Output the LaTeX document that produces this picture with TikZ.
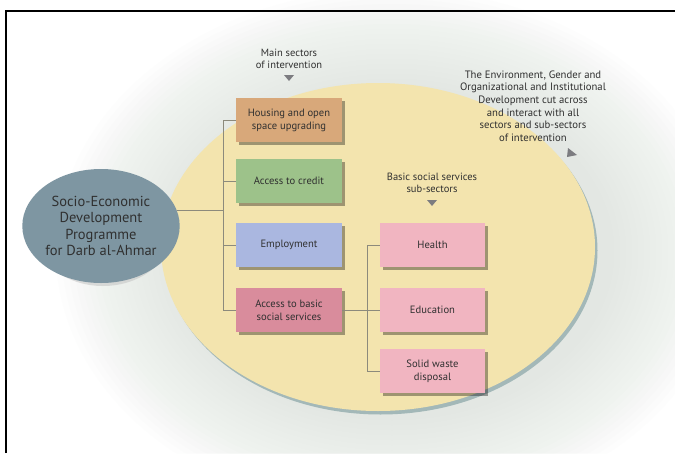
\documentclass[tikz,border=0pt]{standalone}
\usepackage{fontspec}
\setmainfont{PT Sans}
\usetikzlibrary{shadows,shapes.geometric}
\definecolor{bigyel}{HTML}{F3E4AE}
\definecolor{yelshadow}{HTML}{A3B8B8}
\definecolor{halo}{HTML}{D3DBD3}
\definecolor{slate}{HTML}{7E96A2}
\definecolor{housc}{HTML}{D8A87A}
\definecolor{credc}{HTML}{9DC28A}
\definecolor{empc}{HTML}{AAB7E0}
\definecolor{accc}{HTML}{D98C9C}
\definecolor{subc}{HTML}{F1B5C1}
\definecolor{txt}{HTML}{303030}
\definecolor{linec}{HTML}{8C8A7C}
\definecolor{tric}{HTML}{7C7C80}
\begin{document}
\begin{tikzpicture}[x=1pt,y=-1pt,
  box/.style={rectangle, minimum width=106pt, minimum height=44pt, inner sep=2pt,
    align=center, text=txt, font=\fontsize{10.6}{13}\selectfont,
    drop shadow={shadow xshift=2.5pt, shadow yshift=-2.5pt, fill=black, opacity=0.35}},
  head/.style={align=center, text=txt, inner sep=0pt, font=\fontsize{10.5}{12}\selectfont},
  conn/.style={draw=linec, line width=0.8pt},
  tri/.style={fill=tric}]
\useasboundingbox (0,0) rectangle (675,453);
\fill[white] (0,0) rectangle (675,453);
% soft glow
\foreach \k in {0,...,19}
  \fill[halo, opacity=0.035] (392,252) ellipse [x radius={222+6*\k}, y radius={168+5*\k}];
% large ellipse
\fill[yelshadow] (380.5,250.5) ellipse [x radius=217, y radius=164];
\fill[bigyel] (378,247) ellipse [x radius=217, y radius=164];
% frame
\draw[line width=2pt, black] (6,453) -- (6,11) -- (675,11);
% left programme ellipse
\fill[black!25, opacity=0.5] (103,229) ellipse [x radius=70, y radius=57];
\node[ellipse, fill=slate, minimum width=140pt, minimum height=114pt, inner sep=0pt,
  align=center, text=txt, font=\fontsize{14.5}{16.5}\selectfont] (prog) at (101,226)
  {Socio-Economic\\Development\\Programme\\for Darb al-Ahmar};
% headers
\node[head] (mainh) at (289,59) {Main sectors\\of intervention};
\node[head] (subh) at (432,183) {Basic social services\\sub-sectors};
\node[head, font=\fontsize{10.7}{12.6}\selectfont] (envh) at (533,106)
  {The Environment, Gender and\\Organizational and Institutional\\Development cut across\\and interact with all\\sectors and sub-sectors\\of intervention};
\fill[tri] (284,75) -- (294,75) -- (289,81) -- cycle;
\fill[tri] (427,200) -- (437,200) -- (432,206) -- cycle;
\fill[tri] (568,148) -- (567,157) -- (577,155) -- cycle;
% main sector boxes
\node[box, fill=housc] (hous) at (289,120) {Housing and open\\space upgrading};
\node[box, fill=credc] (cred) at (289,181) {Access to credit};
\node[box, fill=empc] (emp) at (289,245) {Employment};
\node[box, fill=accc] (acc) at (289,310) {Access to basic\\social services};
% sub-sector boxes
\node[box, fill=subc, minimum width=105pt] (health) at (432.5,245) {Health};
\node[box, fill=subc, minimum width=105pt] (edu) at (432.5,310) {Education};
\node[box, fill=subc, minimum width=105pt] (waste) at (432.5,371) {Solid waste\\disposal};
% connectors
\coordinate (vx) at (223,0);
\coordinate (sx) at (367,0);
\draw[conn] (prog.12) -- (prog.12 -| vx);
\draw[conn] (hous.west) -| (vx |- acc.west) -- (acc.west);
\draw[conn] (vx |- cred.west) -- (cred.west);
\draw[conn] (vx |- emp.west) -- (emp.west);
\draw[conn] (acc.east) -- (edu.west);
\draw[conn] (health.west) -| (sx |- waste.west) -- (waste.west);
\end{tikzpicture}
\end{document}
